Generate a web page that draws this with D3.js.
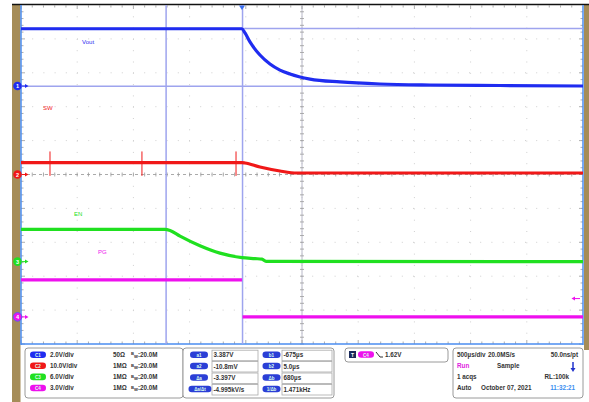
<!DOCTYPE html>
<html><head><meta charset="utf-8">
<script src="https://cdn.jsdelivr.net/npm/d3@7"></script>
<style>
html,body{margin:0;padding:0;background:#fff;}
svg{display:block;font-family:"Liberation Sans",Arial,sans-serif;}
</style></head>
<body><svg id="c" width="589" height="402"></svg>
<script>
// ---- data (time in µs, volts) ----
const chNames = ["C1","C2","C3","C4"];
const chColors = ["#1f2cf0","#f01818","#20e020","#ee10ee"];
const chVdiv = [2.0, 10.0, 6.0, 3.0];
const chOffsetDiv = [2.61, 0, -2.57, -4.2];
const chLabels = ["Vout","SW","EN","PG"];
const chVdivText = ["2.0V/div","10.0V/div","6.0V/div","3.0V/div"];
const chImpText = ["50\u03a9","1M\u03a9","1M\u03a9","1M\u03a9"];

const voutT = [-1966, 0, 27, 71, 160, 249, 338, 427, 605, 872, 1228, 1673, 2295, 3034];
const voutV = [3.38, 3.38, 3.13, 2.6, 1.83, 1.30, 0.94, 0.71, 0.41, 0.24, 0.12, 0.06, 0.03, 0.0];

const swT = [-1966, 0, 27, 160, 338, 490, 3034];
const swV = [3.5, 3.5, 3.4, 2.2, 1.03, 0.44, 0.44];
const swSpikeT = [-1708, -890, -53];
const swSpikeHi = [6.8, 6.8, 6.8];
const swSpikeLo = [-0.4, -0.4, -0.4];

const enT = [-1966, -685, -640, -551, -374, -196, 0, 116, 178, 214, 3034];
const enV = [5.7, 5.7, 5.5, 4.5, 2.8, 1.5, 0.7, 0.53, 0.44, 0.05, 0.0];

// PG: two segments (fast edge not visible)
const pgSegT = [[-1966, 0], [5, 3034]];
const pgSegV = [[3.27, 3.27], [0.0, 0.0]];

const cursorT = [-675, 5];
const cursorV = [3.387, -0.0108];
const trigLevel = 1.62;

const labelT = [-1423, -1770, -1495, -1281];
const labelV = [2.6, 19.6, 8.4, 5.75];

const cursorRowsA = [["a1","3.387V"],["a2","-10.8mV"],["\u0394a","-3.397V"],["\u0394a/\u0394t","-4.995kV/s"]];
const cursorRowsB = [["b1","-675\u00b5s"],["b2","5.0\u00b5s"],["\u0394b","680\u00b5s"],["1/\u0394b","1.471kHz"]];

// ---- layout ----
const svg = d3.select("#c");
const X0 = 21, X1 = 583, Y0 = 5, Y1 = 344;
const x = d3.scaleLinear().domain([-1966, 3034]).range([X0, X1]);
const y = d3.scaleLinear().domain([-5, 5]).range([Y1, Y0]);
const xd = d3.scaleLinear().domain([0, 10]).range([X0, X1]);
const chY = (ci, v) => y(chOffsetDiv[ci] + v / chVdiv[ci]);

// frame pieces
svg.append("rect").attr("x",12).attr("y",5).attr("width",8.5).attr("height",397).attr("fill","#a58c58");
svg.append("rect").attr("x",584).attr("y",5).attr("width",5).attr("height",345).attr("fill","#a58c58");
svg.append("line").attr("x1",12).attr("x2",589).attr("y1",4.5).attr("y2",4.5).attr("stroke","#111").attr("stroke-width",1.5);

const g = svg.append("g");
// dotted grid
const divs = d3.range(1,10);
divs.forEach(i=>{
  g.append("line").attr("x1",xd(i)).attr("x2",xd(i)).attr("y1",Y0).attr("y2",Y1)
   .attr("stroke","#cfcfcf").attr("stroke-width",1).attr("stroke-dasharray","1,10.3");
  g.append("line").attr("x1",X0).attr("x2",X1).attr("y1",y(i-5)).attr("y2",y(i-5))
   .attr("stroke","#cfcfcf").attr("stroke-width",1).attr("stroke-dasharray","1,10.2");
});
// center cross
g.append("line").attr("x1",xd(5)).attr("x2",xd(5)).attr("y1",Y0).attr("y2",Y1).attr("stroke","#b8b8c8").attr("stroke-width",1);
g.append("line").attr("x1",X0).attr("x2",X1).attr("y1",y(0)).attr("y2",y(0)).attr("stroke","#aaa").attr("stroke-width",1).attr("stroke-dasharray","3,3");
// minor ticks
const minorX = d3.range(0,50).map(i=>i/5), minorY = d3.range(0,50).map(i=>i/5-5);
minorX.forEach(d=>{
  const L = (Math.abs(d-Math.round(d))<1e-6)?4:2.5;
  [[Y0,Y0+L],[Y1-L,Y1],[y(0)-2,y(0)+2]].forEach(s=>g.append("line").attr("x1",xd(d)).attr("x2",xd(d)).attr("y1",s[0]).attr("y2",s[1]).attr("stroke","#999").attr("stroke-width",0.8));
});
minorY.forEach(d=>{
  const L = (Math.abs(d-Math.round(d))<1e-6)?4:2.5;
  [[X0,X0+L],[X1-L,X1],[xd(5)-2,xd(5)+2]].forEach(s=>g.append("line").attr("y1",y(d)).attr("y2",y(d)).attr("x1",s[0]).attr("x2",s[1]).attr("stroke","#999").attr("stroke-width",0.8));
});
// plot border
g.append("line").attr("x1",X0).attr("x2",X0).attr("y1",Y0).attr("y2",Y1+1).attr("stroke","#4a8cf0").attr("stroke-width",1.5);
g.append("line").attr("x1",X0).attr("x2",X1).attr("y1",Y1).attr("y2",Y1).attr("stroke","#4a8cf0").attr("stroke-width",1.5);
g.append("line").attr("x1",X1).attr("x2",X1).attr("y1",Y0).attr("y2",Y1+1).attr("stroke","#4a8cf0").attr("stroke-width",1.5);

// cursors
cursorT.forEach(t=>g.append("line").attr("x1",x(t)).attr("x2",x(t)).attr("y1",Y0).attr("y2",Y1).attr("stroke","#9ea4ee").attr("stroke-width",1.5));
cursorV.forEach(v=>g.append("line").attr("x1",X0).attr("x2",X1).attr("y1",chY(0,v)).attr("y2",chY(0,v)).attr("stroke","#9ea4ee").attr("stroke-width",1.5));

// traces
const line = (ci)=>d3.line().x(d=>x(d[0])).y(d=>chY(ci,d[1])).curve(d3.curveMonotoneX);
const traces = [[voutT,voutV],[swT,swV],[enT,enV]];
traces.forEach((tr,ci)=>{
  const pts = tr[0].map((t,i)=>[t,tr[1][i]]);
  g.append("path").attr("d",line(ci)(pts)).attr("fill","none").attr("stroke",chColors[ci]).attr("stroke-width",3.2);
});
pgSegT.forEach((seg,si)=>{
  const pts = seg.map((t,i)=>[t,pgSegV[si][i]]);
  g.append("path").attr("d",line(3)(pts)).attr("fill","none").attr("stroke",chColors[3]).attr("stroke-width",3.2);
});
swSpikeT.forEach((t,i)=>g.append("line").attr("x1",x(t)).attr("x2",x(t)).attr("y1",chY(1,swSpikeHi[i])).attr("y2",chY(1,swSpikeLo[i])).attr("stroke",chColors[1]).attr("stroke-width",1));

// channel labels in plot
chLabels.forEach((s,ci)=>g.append("text").attr("x",x(labelT[ci])).attr("y",chY(ci,labelV[ci])+2).attr("font-size",6).attr("fill",chColors[ci]).text(s));

// ground markers
chNames.forEach((n,ci)=>{
  const yy = chY(ci,0);
  g.append("circle").attr("cx",17.5).attr("cy",yy).attr("r",4.3).attr("fill",chColors[ci]).attr("stroke", ci===3?"#5a5af0":"none").attr("stroke-width",1);
  g.append("text").attr("x",17.5).attr("y",yy+2).attr("text-anchor","middle").attr("font-size",5.5).attr("font-weight","bold").attr("fill","#fff").text(ci+1);
  g.append("path").attr("d",`M22,${yy}H26`).attr("stroke",chColors[ci]).attr("stroke-width",1);
  g.append("path").attr("d",`M25,${yy-2}L28.5,${yy}L25,${yy+2}Z`).attr("fill",chColors[ci]);
});
// trigger level marker
{
  const yy = chY(3,trigLevel);
  g.append("path").attr("d",`M574,${yy}H580`).attr("stroke",chColors[3]).attr("stroke-width",1);
  g.append("path").attr("d",`M575,${yy-2}L571.5,${yy}L575,${yy+2}Z`).attr("fill",chColors[3]);
}
// trigger position marker
g.append("path").attr("d",`M${x(0)-3},${Y0+0.5}L${x(0)+3},${Y0+0.5}L${x(0)},${Y0+5}Z`).attr("fill","#3a6ef0");

// ---- bottom panels ----
const P = svg.append("g").attr("font-size",6.3).attr("font-weight","bold").attr("fill","#333");
const box = (x0,y0,w,h)=>P.append("rect").attr("x",x0).attr("y",y0).attr("width",w).attr("height",h).attr("rx",3).attr("fill","#fff").attr("stroke","#9a9a9a").attr("stroke-width",1);
const pill = (cx,cy,w,col,txt)=>{
  P.append("rect").attr("x",cx-w/2).attr("y",cy-3.3).attr("width",w).attr("height",6.6).attr("rx",3.3).attr("fill",col);
  P.append("text").attr("x",cx).attr("y",cy+2).attr("text-anchor","middle").attr("font-size",4.5).attr("fill","#dfe").text(txt);
};
box(25,348,158,50);
const rowY = [355.7,366.8,377.9,389];
chNames.forEach((n,ci)=>{
  pill(38,rowY[ci]-1,16,chColors[ci],n);
  P.append("text").attr("x",50).attr("y",rowY[ci]+1.2).text(chVdivText[ci]);
  P.append("text").attr("x",113).attr("y",rowY[ci]+1.2).text(chImpText[ci]);
  const tt = P.append("text").attr("x",131).attr("y",rowY[ci]+1.2);
  tt.append("tspan").attr("font-size",4.2).attr("dy",-1.5).text("B");
  tt.append("tspan").attr("font-size",4.2).attr("dy",2.5).text("W");
  tt.append("tspan").attr("dy",-1).text(":20.0M");
});
box(183,348,151,50);
const rowY2 = [355.7,367,378.5,390];
cursorRowsA.forEach((r,i)=>{
  pill(i===3?200:199, rowY2[i]-1, i===3?23:18, "#2b3fd6", r[0]);
  P.append("rect").attr("x",212).attr("y",rowY2[i]-5.5).attr("width",46).attr("height",10.5).attr("fill","none").attr("stroke","#aaa").attr("stroke-width",0.8);
  P.append("text").attr("x",213.5).attr("y",rowY2[i]+1.5).text(r[1]);
});
cursorRowsB.forEach((r,i)=>{
  pill(271.5, rowY2[i]-1, 18, "#2b3fd6", r[0]);
  P.append("rect").attr("x",282).attr("y",rowY2[i]-5.5).attr("width",50).attr("height",10.5).attr("fill","none").attr("stroke","#aaa").attr("stroke-width",0.8);
  P.append("text").attr("x",283.5).attr("y",rowY2[i]+1.5).text(r[1]);
});
box(345,348,103,14);
P.append("rect").attr("x",349).attr("y",351).attr("width",7).attr("height",7).attr("fill","#1a2a5a");
P.append("text").attr("x",352.5).attr("y",357).attr("text-anchor","middle").attr("font-size",5).attr("fill","#fff").text("T");
pill(366,354.5,16,chColors[3],"C4");
P.append("path").attr("d","M376,352L380,357H383").attr("fill","none").attr("stroke","#333").attr("stroke-width",1);
P.append("text").attr("x",385).attr("y",357).text(trigLevel.toFixed(2)+"V");
box(453,348,130,50);
P.append("text").attr("x",457).attr("y",357).text("500\u00b5s/div");
P.append("text").attr("x",488).attr("y",357).text("20.0MS/s");
P.append("text").attr("x",578).attr("y",357).attr("text-anchor","end").text("50.0ns/pt");
P.append("text").attr("x",457).attr("y",367.5).attr("fill","#e020e0").text("Run");
P.append("text").attr("x",497).attr("y",367.5).text("Sample");
P.append("path").attr("d","M573,362V369").attr("stroke","#2233cc").attr("stroke-width",1.5);
P.append("path").attr("d","M570.5,368L573,372L575.5,368Z").attr("fill","#2233cc");
P.append("text").attr("x",457).attr("y",378.5).text("1 acqs");
P.append("text").attr("x",569).attr("y",378.5).attr("text-anchor","end").text("RL:100k");
P.append("text").attr("x",457).attr("y",390).text("Auto");
P.append("text").attr("x",481).attr("y",390).text("October 07, 2021");
P.append("text").attr("x",575).attr("y",390).attr("text-anchor","end").attr("fill","#3a8ef0").text("11:32:21");
</script></body></html>
